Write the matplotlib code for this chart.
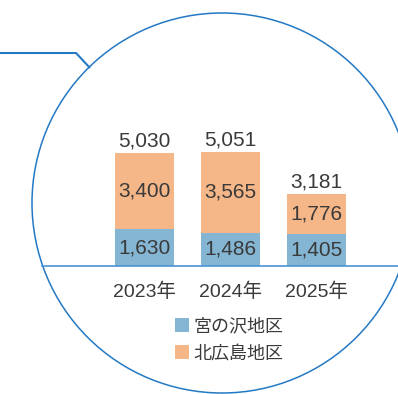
import matplotlib
matplotlib.use("Agg")
import matplotlib.pyplot as plt
from matplotlib.patches import Circle, Patch

years = ["2023年", "2024年", "2025年"]
miyanosawa = [1630, 1486, 1405]
kitahiroshima = [3400, 3565, 1776]
series_names = ["宮の沢地区", "北広島地区"]

BLUE = "#84b5d3"
ORANGE = "#f5b688"
LINE = "#2479c4"
TEXT = "#3a3a3a"
FONT = ["Liberation Sans", "Noto Sans CJK JP"]

plt.rcParams["font.family"] = FONT

W, H = 398, 394
fig = plt.figure(figsize=(W / 100, H / 100), dpi=100)

# decorative overlay in pixel coordinates: circle and callout line
deco = fig.add_axes([0, 0, 1, 1], zorder=0)
deco.set_xlim(0, W)
deco.set_ylim(H, 0)
deco.axis("off")
deco.add_patch(Circle((222, 203), 190, fill=False, edgecolor=LINE, lw=1.1))
deco.plot([0, 76, 90], [53, 53, 68], color=LINE, lw=1.5, solid_capstyle="butt")

# bar chart axes
left_px, base_px = 42, 266
ax = fig.add_axes([left_px / W, (H - base_px) / H, (W - left_px) / W, 140 / H],
                  zorder=1)
ax.patch.set_alpha(0)
x = range(len(years))
width = 0.686
ax.bar(x, miyanosawa, width=width, color=BLUE, zorder=2)
ax.bar(x, kitahiroshima, width=width, bottom=miyanosawa, color=ORANGE,
       zorder=2)
ax.set_xlim((left_px - 144.5) / 86, (W - 144.5) / 86)
ax.set_ylim(0, 140 / 0.0225)

for i in x:
    lo, hi = miyanosawa[i], kitahiroshima[i]
    ax.text(i, lo / 2, f"{lo:,}", ha="center", va="center", fontsize=15,
            color=TEXT, zorder=3)
    ax.text(i, lo + hi / 2, f"{hi:,}", ha="center", va="center",
            fontsize=15, color=TEXT, zorder=3)
    ax.annotate(f"{lo + hi:,}", (i, lo + hi), xytext=(0, 2),
                textcoords="offset points", ha="center", va="bottom",
                fontsize=15, color=TEXT)

for side in ["top", "right", "left"]:
    ax.spines[side].set_visible(False)
ax.spines["bottom"].set_color("#4a94d4")
ax.spines["bottom"].set_linewidth(1.2)
ax.spines["bottom"].set_zorder(4)
ax.set_yticks([])
ax.set_xticks(list(x))
ax.set_xticklabels(years, fontsize=14, color=TEXT)
ax.tick_params(axis="x", length=0, pad=12)

handles = [Patch(facecolor=BLUE), Patch(facecolor=ORANGE)]
fig.legend(handles, series_names, loc="upper left",
           bbox_to_anchor=(175 / W, (H - 318) / H), frameon=False,
           fontsize=13, handlelength=0.8, handleheight=0.8,
           handletextpad=0.2, labelspacing=0.55, borderpad=0,
           labelcolor=TEXT, borderaxespad=0)

fig.savefig("out.png", dpi=100)
